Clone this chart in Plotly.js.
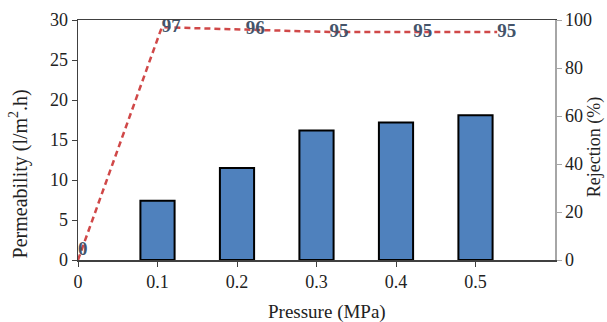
<!DOCTYPE html>
<html>
<head>
<meta charset="utf-8">
<script src="https://cdn.plot.ly/plotly-3.0.1.min.js"></script>
<style>html,body{margin:0;padding:0;background:#fff;}#chart{width:607px;height:322px;}</style>
</head>
<body>
<div id="chart"></div>
<script>
const pressureBars = [0.1, 0.2, 0.3, 0.4, 0.5];
const permeability = [7.4, 11.5, 16.2, 17.2, 18.1];
const pressureLine = [0, 0.1, 0.2, 0.3, 0.4, 0.5];
const rejection = [0, 97, 96, 95, 95, 95];
const xTickVals = [0, 0.1, 0.2, 0.3, 0.4, 0.5];
const xTickText = ['0', '0.1', '0.2', '0.3', '0.4', '0.5'];

const serif = "'Liberation Serif', 'Times New Roman', serif";

const traces = [
  {
    type: 'bar', x: pressureBars, y: permeability, width: 0.043,
    marker: {color: '#4F81BD', line: {color: '#000000', width: 2}},
    xaxis: 'x', yaxis: 'y', hoverinfo: 'skip'
  },
  {
    type: 'scatter', mode: 'lines+text', x: pressureLine, y: rejection,
    text: rejection.map(String),
    textposition: rejection.map((v, i) => i === 0 ? 'top right' : 'middle right'),
    textfont: {family: serif, size: 19, color: '#44546A', weight: 'bold'},
    line: {color: '#D04848', width: 2.5, dash: '6px,4px'},
    xaxis: 'x2', yaxis: 'y2', hoverinfo: 'skip', cliponaxis: false
  }
];

const titleFont = {family: serif, size: 19, color: '#222'};

const layout = {
  width: 607, height: 322,
  margin: {l: 78, r: 52, t: 20, b: 62},
  paper_bgcolor: '#fff', plot_bgcolor: '#fff',
  showlegend: false,
  font: {family: serif, size: 18, color: '#222'},
  xaxis: {
    range: [0, 0.6], tickvals: xTickVals, ticktext: xTickText,
    showline: true, mirror: true, linecolor: '#404040', linewidth: 1.5,
    ticks: 'outside', ticklen: 5, tickcolor: '#404040',
    showgrid: false, zeroline: false
  },
  xaxis2: {
    range: [0, 0.569], overlaying: 'x', visible: false, showgrid: false, zeroline: false
  },
  yaxis: {
    range: [0, 30], dtick: 5,
    showline: true, linecolor: '#404040', linewidth: 1.5,
    ticks: 'outside', ticklen: 5, tickcolor: '#404040',
    showgrid: false, zeroline: false
  },
  yaxis2: {
    range: [0, 100], dtick: 20, overlaying: 'y', side: 'right',
    showline: true, linecolor: '#A6A6A6', linewidth: 1.5,
    ticks: 'outside', ticklen: 5, tickcolor: '#A6A6A6',
    showgrid: false, zeroline: false
  },
  annotations: [
    {text: 'Pressure (MPa)', xref: 'paper', yref: 'paper', x: 0.522, y: -0.217,
     showarrow: false, font: titleFont, xanchor: 'center', yanchor: 'middle'},
    {text: 'Permeability (l/m<sup>2</sup>.h)', xref: 'paper', yref: 'paper', x: -0.124, y: 0.36,
     showarrow: false, font: {family: serif, size: 20, color: '#222'}, textangle: -90, xanchor: 'center', yanchor: 'middle'},
    {text: 'Rejection (%)', xref: 'paper', yref: 'paper', x: 1.082, y: 0.47,
     showarrow: false, font: {family: serif, size: 18, color: '#222'}, textangle: -90, xanchor: 'center', yanchor: 'middle'}
  ]
};

Plotly.newPlot('chart', traces, layout, {staticPlot: true, displayModeBar: false});
</script>
</body>
</html>
